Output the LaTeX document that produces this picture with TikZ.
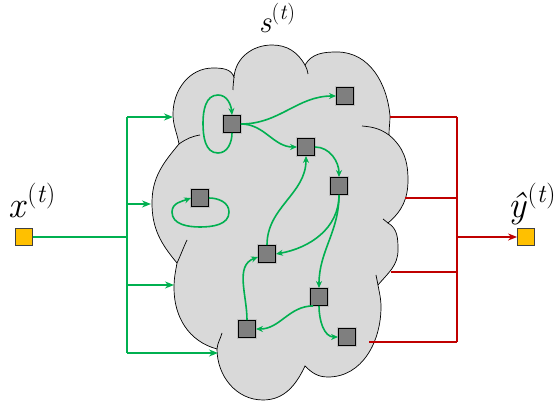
\documentclass[tikz,border=0pt]{standalone}
\usepackage{fontspec}
\usetikzlibrary{arrows.meta,positioning}
\definecolor{linkgreen}{HTML}{00B050}
\definecolor{outred}{HTML}{C00000}
\definecolor{cloudgray}{HTML}{D9D9D9}
\definecolor{unitgray}{HTML}{7F7F7F}
\definecolor{ioyellow}{HTML}{FFC000}
\newcommand{\biglab}[1]{\textit{#1}\raisebox{0.42em}{\fontsize{0.7em}{1em}\selectfont(\textit{t})}}

\begin{document}
\begin{tikzpicture}[x=1pt,y=1pt,
	unit/.style={draw=black, line width=0.9pt, fill=unitgray, minimum size=17pt, inner sep=0pt, preaction={draw=black!25, line width=2.4pt}},
	io/.style={draw=black!75, line width=0.8pt, fill=ioyellow, minimum size=17pt, inner sep=0pt},
	link/.style={linkgreen, line width=1.6pt, -{Stealth[length=7pt,width=6pt]}},
	feed/.style={linkgreen, line width=2.2pt},
	readout/.style={outred, line width=2.2pt},
	tip/.style={-{Stealth[length=9pt,width=7pt]}},
	lab/.style={inner sep=0pt, anchor=base, font=\fontsize{37}{40}\selectfont}]
		%%%%% START %%%%%
		\useasboundingbox (0,0) rectangle (557,401);
		
		% reservoir cloud
		\draw[fill=cloudgray, line width=0.7pt] (179,257)
			to[out=100,in=-90] (173,287) to[out=90,in=180] (213,333) to[out=0,in=110] (234,324)
			to[out=85,in=180] (272,356) to[out=0,in=120] (305,336)
			to[out=60,in=180] (337,349) to[out=0,in=95] (390,285) to[out=-90,in=90] (389,266)
			to[out=-40,in=90] (408,221) to[out=-90,in=40] (388,178)
			to[out=-30,in=90] (398,151) to[out=-90,in=50] (378,116)
			to[out=-80,in=90] (381,94) to[out=-90,in=0] (328,24) to[out=180,in=-45] (305,35)
			to[out=-115,in=0] (263,1) to[out=180,in=-90] (217,52)
			to[out=165,in=-90] (174,113) to[out=90,in=-100] (177,138)
			to[out=130,in=-90] (152,198) to[out=90,in=-130] cycle;
		\draw[line width=0.7pt] (179,257) to[out=35,in=190] (200,266);
		\draw[line width=0.7pt] (234,324) to[out=-95,in=90] (233,311);
		\draw[line width=0.7pt] (305,336) to[out=-60,in=100] (308,327);
		\draw[line width=0.7pt] (362,275) to[out=-5,in=145] (389,266);
		\draw[line width=0.7pt] (383,182) -- (388,178);
		\draw[line width=0.7pt] (376,126) -- (378,116);
		\draw[line width=0.7pt] (217,52) to[out=85,in=-105] (222,68);
		\draw[line width=0.7pt] (177,138) to[out=65,in=-115] (187,161);
		
		% units
		\node[unit] (n1) at (232,277) {};
		\node[unit] (n2) at (345,305) {};
		\node[unit] (n3) at (306,254) {};
		\node[unit] (n4) at (339,215) {};
		\node[unit] (n5) at (200,203) {};
		\node[unit] (n6) at (267,147) {};
		\node[unit] (n7) at (319,104) {};
		\node[unit] (n8) at (247,72) {};
		\node[unit] (n9) at (347,64) {};
		
		% recurrent links
		\draw[link] (n1.south) to[out=-90,in=0] (218,248) to[out=180,in=-90] (203,278)
			to[out=90,in=180] (218,306) to[out=0,in=95] (n1.north);
		\draw[link] (n5.east) to[out=0,in=90] (229,189) to[out=-90,in=0] (200,174)
			to[out=180,in=-90] (172,189) to[out=90,in=200] (n5.west);
		\draw[link] (n1.east) to[out=0,in=180] (n2.west);
		\draw[link] (n1.east) to[out=0,in=180] (n3.west);
		\draw[link] (n3.east) to[out=0,in=90] (n4.north);
		\draw[link] (n6.north) to[out=90,in=-90] (n3.south);
		\draw[link] (n4.south) to[out=-90,in=10] (n6.east);
		\draw[link] (n4.south) to[out=-90,in=90] (n7.north);
		\draw[link] (n8.north) to[out=90,in=200] ([yshift=-3pt]n6.west);
		\draw[link] ([xshift=3pt]n7.south west) to[out=180,in=0] (n8.east);
		\draw[link] (n7.south) to[out=-90,in=180] (n9.west);
		
		% input and output
		\node[io] (xin) at (24,164) {};
		\node[io] (yout) at (526,164) {};
		\node[lab] (xlab) at (32,183) {\biglab{x}};
		\node[lab] (ylab) at (532,183) {\biglab{ŷ}};
		\node[lab, font=\fontsize{31}{34}\selectfont] (slab) at (277,368) {\biglab{s}};
		
		% input feed
		\coordinate (inbus) at (127,164);
		\coordinate (in1) at (173,284);
		\coordinate (in2) at (151,197);
		\coordinate (in3) at (174,116);
		\coordinate (in4) at (218,48);
		\draw[feed, line width=2.8pt] (xin.east) -- (inbus);
		\draw[feed] (inbus |- in1) -- (inbus |- in4);
		\foreach \p in {in1,in2,in3,in4}
			\draw[feed, tip] (inbus |- \p) -- (\p);
		
		% readout
		\coordinate (outbus) at (457,164);
		\coordinate (out1) at (390,284);
		\coordinate (out2) at (405,203);
		\coordinate (out3) at (391,129);
		\coordinate (out4) at (369,59);
		\draw[readout] (outbus |- out1) -- (outbus |- out4);
		\foreach \p in {out1,out2,out3,out4}
			\draw[readout] (\p) -- (outbus |- \p);
		\draw[readout, line width=2.8pt, tip] (outbus) -- (yout.west);
		%%%%% END %%%%%
\end{tikzpicture}
\end{document}
